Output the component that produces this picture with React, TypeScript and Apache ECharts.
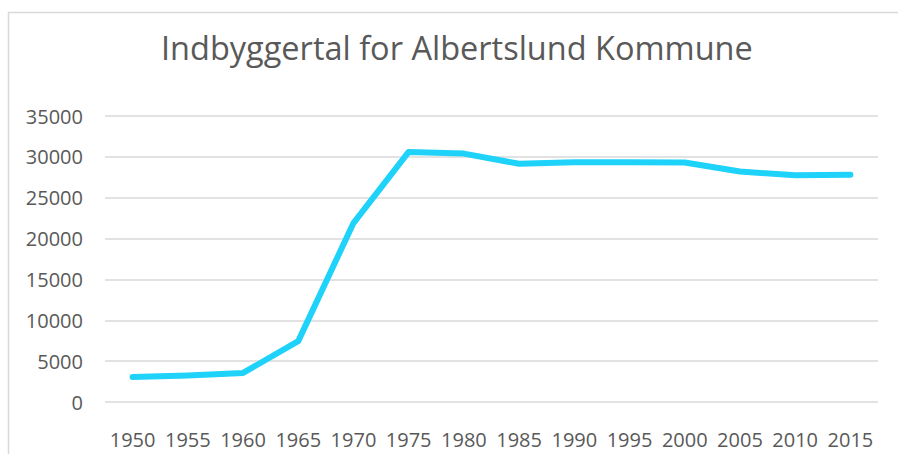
import React, { useEffect, useRef } from "react";
import * as echarts from "echarts";

const years = ["1950", "1955", "1960", "1965", "1970", "1975", "1980", "1985", "1990", "1995", "2000", "2005", "2010", "2015"];
const population = [3070, 3250, 3560, 7450, 21900, 30600, 30400, 29150, 29350, 29350, 29300, 28200, 27750, 27820];
const yTicks = { min: 0, max: 35000, interval: 5000 };

export default function App() {
  const ref = useRef<HTMLDivElement>(null);
  useEffect(() => {
    document.body.style.margin = "0";
    const chart = echarts.init(ref.current!, null, { renderer: "svg" });
    chart.setOption({
      animation: false,
      backgroundColor: "#ffffff",
      graphic: [
        {
          type: "polyline",
          shape: { points: [[8.5, 460], [8.5, 12.5], [898, 12.5]] },
          style: { fill: "none", stroke: "#d9d9d9", lineWidth: 1.5 },
          silent: true,
        },
      ],
      title: {
        text: "Indbyggertal for Albertslund Kommune",
        left: 161,
        top: 31,
        padding: 0,
        textStyle: { fontFamily: "Open Sans", fontSize: 32.5, fontWeight: "normal", color: "#595959" },
      },
      grid: { left: 105, right: 20, top: 116, bottom: 52, containLabel: false },
      xAxis: {
        type: "category",
        data: years,
        boundaryGap: true,
        axisLine: { show: false },
        axisTick: { show: false },
        axisLabel: { interval: 0, fontFamily: "Open Sans", fontSize: 20, color: "#595959", margin: 27 },
      },
      yAxis: {
        type: "value",
        min: yTicks.min,
        max: yTicks.max,
        interval: yTicks.interval,
        axisLine: { show: false },
        axisTick: { show: false },
        axisLabel: {
          fontFamily: "Open Sans",
          fontSize: 20,
          color: "#595959",
          margin: 22,
          formatter: (v: number) => String(v),
        },
        splitLine: { lineStyle: { color: "#d9d9d9", width: 1.5 } },
      },
      series: [
        {
          type: "line",
          data: population,
          symbol: "none",
          lineStyle: { color: "#1fd2fa", width: 6, cap: "round", join: "round" },
        },
      ],
    });
    return () => chart.dispose();
  }, []);
  return <div ref={ref} style={{ width: 898, height: 454 }} />;
}
